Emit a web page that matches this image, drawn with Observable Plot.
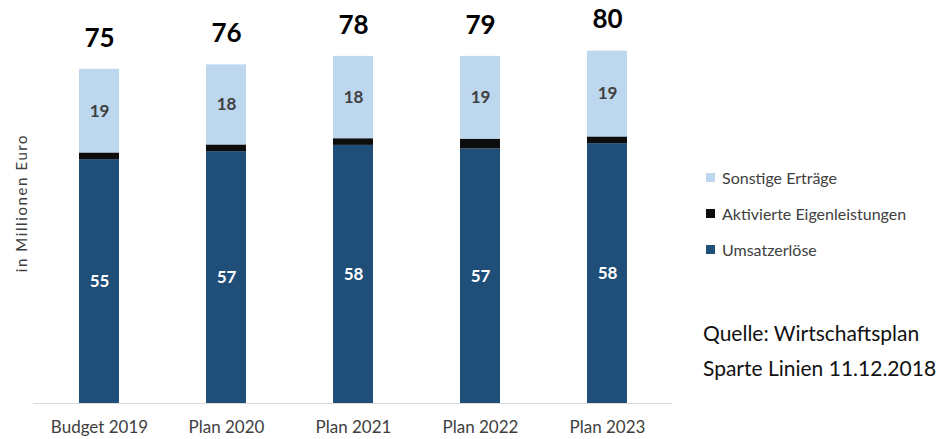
<!DOCTYPE html>
<html>
<head>
<meta charset="utf-8">
<script src="https://cdn.jsdelivr.net/npm/d3@7"></script>
<script src="https://cdn.jsdelivr.net/npm/@observablehq/plot@0.6"></script>
<style>
  html, body { margin: 0; padding: 0; background: #fff; }
  #wrap { position: relative; width: 938px; height: 439px; font-family: Lato, "Open Sans", sans-serif; }
  #legend { position: absolute; left: 706px; top: 166px; font-size: 16px; color: #404040; }
  #legend .row { display: flex; align-items: center; height: 22px; margin-bottom: 14px; }
  #legend .sw { width: 9px; height: 9px; margin-right: 7px; }
  #source { position: absolute; left: 703px; top: 315px; font-size: 21px; line-height: 35px; color: #111; }
  #ylabel { position: absolute; left: 21px; top: 203px; transform: translate(-50%, -50%) rotate(-90deg);
            white-space: nowrap; font-size: 15px; letter-spacing: 1.6px; color: #404040; }
</style>
</head>
<body>
<div id="wrap"></div>
<script>
const categories = ["Budget 2019", "Plan 2020", "Plan 2021", "Plan 2022", "Plan 2023"];
const seriesNames = ["Umsatzerlöse", "Aktivierte Eigenleistungen", "Sonstige Erträge"];
const seriesColors = ["#1F4E79", "#0D0D0D", "#BDD7EE"];
const labelColors = ["#ffffff", null, "#404040"];
const umsatzerloese = [54.8, 56.6, 58.0, 57.2, 58.4];
const aktivierte = [1.5, 1.5, 1.5, 2.2, 1.5];
const sonstige = [18.8, 18.0, 18.5, 18.6, 19.3];
const umsatzLabels = ["55", "57", "58", "57", "58"];
const sonstigeLabels = ["19", "18", "18", "19", "19"];
const totalLabels = ["75", "76", "78", "79", "80"];
const yLabel = "in Millionen Euro";
const sourceLines = ["Quelle: Wirtschaftsplan", "Sparte Linien 11.12.2018"];

const series = [umsatzerloese, aktivierte, sonstige];
const segLabels = [umsatzLabels, null, sonstigeLabels];
const rows = [];
const totals = [];
categories.forEach((c, i) => {
  let acc = 0;
  series.forEach((s, k) => {
    rows.push({cat: c, series: seriesNames[k], y1: acc, y2: acc + s[i], mid: acc + s[i] / 2,
               label: segLabels[k] ? segLabels[k][i] : null, lc: labelColors[k]});
    acc += s[i];
  });
  totals.push({cat: c, y: acc, label: totalLabels[i]});
});

const chart = Plot.plot({
  width: 938,
  height: 439,
  marginLeft: 33,
  marginRight: 266,
  marginTop: 2.5,
  marginBottom: 36,
  style: {fontFamily: "Lato, 'Open Sans', sans-serif", background: "#fff"},
  x: {domain: categories, paddingInner: 0.6875, paddingOuter: 0.34, label: null},
  y: {domain: [0, 90], axis: null},
  color: {domain: seriesNames, range: seriesColors},
  marks: [
    Plot.barY(rows, {x: "cat", y1: "y1", y2: "y2", fill: "series"}),
    Plot.ruleY([0], {stroke: "#d9d9d9", strokeWidth: 1}),
    Plot.text(rows.filter(d => d.label), {x: "cat", y: "mid", text: "label", fill: d => d.lc,
      fontSize: 17, fontWeight: "bold", stroke: d => d.lc, strokeWidth: 0.01}),
    Plot.text(totals, {x: "cat", y: "y", text: "label", dy: -31, fontSize: 26, fontWeight: "bold", fill: "#000"}),
    Plot.axisX({tickSize: 0, tickPadding: 17, fontSize: 17, color: "#404040", label: null})
  ]
});
const wrap = document.getElementById("wrap");
wrap.appendChild(chart);

const yl = document.createElement("div");
yl.id = "ylabel";
yl.textContent = yLabel;
wrap.appendChild(yl);

const legend = document.createElement("div");
legend.id = "legend";
[2, 1, 0].forEach(k => {
  const row = document.createElement("div");
  row.className = "row";
  const sw = document.createElement("div");
  sw.className = "sw";
  sw.style.background = seriesColors[k];
  const t = document.createElement("span");
  t.textContent = seriesNames[k];
  row.appendChild(sw); row.appendChild(t);
  legend.appendChild(row);
});
wrap.appendChild(legend);

const src = document.createElement("div");
src.id = "source";
src.innerHTML = sourceLines.map(s => `<div>${s}</div>`).join("");
wrap.appendChild(src);
</script>
</body>
</html>
